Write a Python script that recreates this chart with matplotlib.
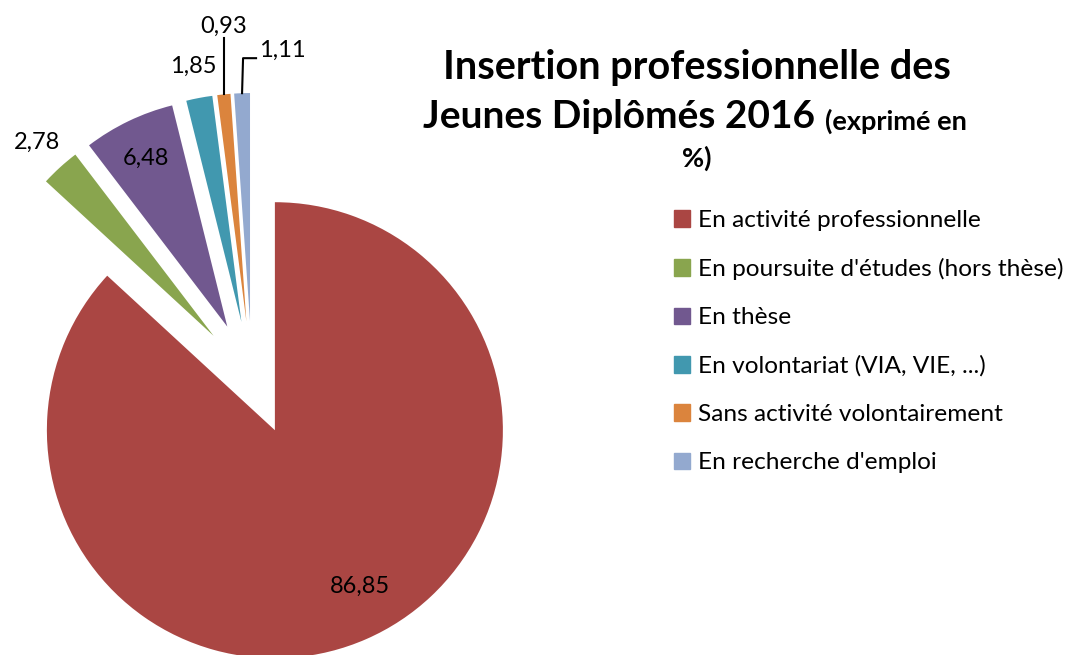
import numpy as np
import matplotlib.pyplot as plt

# Données
categories = ["En activité professionnelle",
              "En poursuite d'études (hors thèse)",
              "En thèse",
              "En volontariat (VIA, VIE, ...)",
              "Sans activité volontairement",
              "En recherche d'emploi"]
values = [86.85, 2.78, 6.48, 1.85, 0.93, 1.11]
value_labels = ["86,85", "2,78", "6,48", "1,85", "0,93", "1,11"]
colors = ["#AA4643", "#89A54E", "#71588F", "#4198AF", "#DB843D", "#93A9CF"]

plt.rcParams['font.family'] = ['Lato', 'DejaVu Sans']

W, H = 1071, 655
fig = plt.figure(figsize=(W / 100, H / 100), dpi=100)
ax = fig.add_axes([0, 0, 1, 1])

R = 228.0          # rayon en pixels
cx, cy = 252, 378  # centre du camembert (pixels, origine en haut)

wedges, _ = ax.pie(values, colors=colors, startangle=90, counterclock=False,
                   explode=[0.25] * len(values), radius=1,
                   wedgeprops=dict(linewidth=0))
ax.set_xlim(-cx / R, (W - cx) / R)
ax.set_ylim(-(H - cy) / R, cy / R)
ax.axis('off')


def point(w, r, dtheta=0):
    t = np.deg2rad((w.theta1 + w.theta2) / 2 + dtheta)
    return w.center[0] + r * np.cos(t), w.center[1] + r * np.sin(t)


# étiquettes de valeurs
fs = 17
pos = [(0.78, 5), (1.15, 0), (0.82, 0), (1.14, 0)]
for i, (r, dt) in enumerate(pos):
    x, y = point(wedges[i], r, dt)
    ax.text(x, y, value_labels[i], ha='center', va='center', fontsize=fs)

# lignes de rappel pour les petites parts
x0, y0 = point(wedges[4], 1.0)
ax.plot([x0, x0], [y0, y0 + 56 / R], color='black', lw=1.5)
ax.text(x0, y0 + 56 / R + 2 / R, value_labels[4], ha='center', va='bottom', fontsize=fs)

x1, y1 = point(wedges[5], 1.0)
ax.plot([x1, x1 + 1 / R, x1 + 14 / R], [y1, y1 + 35 / R, y1 + 35 / R], color='black', lw=1.5)
ax.text(x1 + 17 / R, y1 + 35 / R + 8 / R, value_labels[5], ha='left', va='center', fontsize=fs)

# titre
fig.text(697 / W, 1 - 68 / H, "Insertion professionnelle des", ha='center', va='center',
         fontsize=28.5, fontweight='bold')
fig.text(815 / W, 1 - 117 / H, "Jeunes Diplômés 2016", ha='right', va='center',
         fontsize=28, fontweight='bold')
fig.text(825 / W, 1 - 121 / H, "(exprimé en", ha='left', va='center',
         fontsize=19.5, fontweight='bold')
fig.text(697 / W, 1 - 158 / H, "%)", ha='center', va='center',
         fontsize=19.5, fontweight='bold')

# légende
handles = [plt.Rectangle((0, 0), 1, 1, color=c) for c in colors]
fig.legend(handles, categories, loc='upper left', bbox_to_anchor=(652 / W, 1 - 188 / H),
           frameon=False, fontsize=17.6, handlelength=0.65, handleheight=0.65,
           handletextpad=0.35, labelspacing=1.11)

plt.savefig("out.png", dpi=100)
